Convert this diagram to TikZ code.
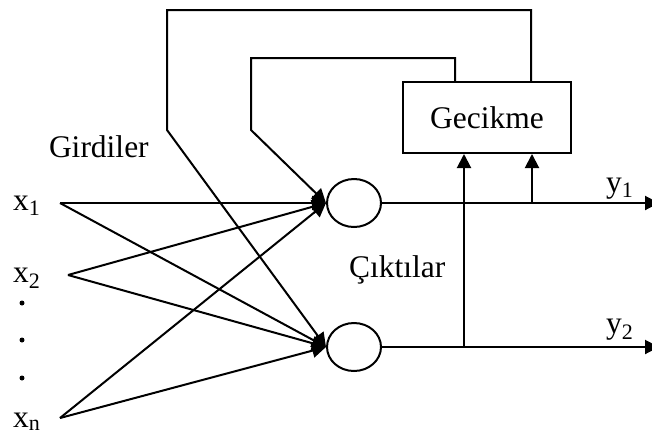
\documentclass[tikz,border=0pt]{standalone}
\usepackage{fontspec}
\setmainfont{Liberation Serif}
\usetikzlibrary{arrows.meta,shapes.geometric}
\begin{document}
\begin{tikzpicture}[x=1pt,y=-1pt,line width=2pt,line join=miter,
  lbl/.style={font=\fontsize{31.5}{36}\selectfont,inner sep=0,anchor=base west},
  neuron/.style={ellipse,draw,minimum width=54pt,minimum height=48pt,inner sep=0},
  delaybox/.style={draw,minimum width=168pt,minimum height=71pt,inner sep=0,font=\fontsize{31.5}{36}\selectfont},
  arr/.style={-{Triangle[length=14pt,width=14pt]}},
  dotmark/.style={circle,fill,inner sep=0,minimum size=5pt}]
\useasboundingbox (0,0) rectangle (652,432);
% neurons and delay box
\node[neuron] (n1) at (354,203) {};
\node[neuron] (n2) at (354,347) {};
\node[delaybox] (d) at (487,117.5) {Gecikme};
% labels
\node[lbl] (gir) at (48,157) {Girdiler};
\node[lbl] (cik) at (348,277) {Çıktılar};
\node[lbl] (x1) at (12,210) {x\textsubscript{1}};
\node[lbl] (x2) at (12,282) {x\textsubscript{2}};
\node[lbl] (xn) at (12,427) {x\textsubscript{n}};
\node[lbl] (y1) at (605,192) {y\textsubscript{1}};
\node[lbl] (y2) at (605,333) {y\textsubscript{2}};
\node[dotmark] (d1) at (22,303) {};
\node[dotmark] (d2) at (22,340) {};
\node[dotmark] (d3) at (22,378) {};
% input line start points
\coordinate (s1) at (60,203);
\coordinate (s2) at (68,275);
\coordinate (sn) at (60,418);
\draw[arr] (s1) -- (n1.west);
\draw[arr] (s1) -- (n2.west);
\draw[arr] (s2) -- (n1.west);
\draw[arr] (s2) -- (n2.west);
\draw[arr] (sn) -- (n1.west);
\draw[arr] (sn) -- (n2.west);
% outputs
\coordinate (o1) at (659,203);
\coordinate (o2) at (659,347);
\draw[arr] (n1.east) -- (o1);
\draw[arr] (n2.east) -- (o2);
% taps to delay
\coordinate (t1) at (532,203);
\coordinate (t2) at (464,347);
\draw[arr] (t1) -- (t1 |- d.south);
\draw[arr] (t2) -- (t2 |- d.south);
% feedback
\draw[arr] ([xshift=53pt]d.north west) |- (251,58) -- (251,130) -- (n1.west);
\draw[arr] ([xshift=129pt]d.north west) |- (167,10) -- (167,130) -- (n2.west);
\end{tikzpicture}
\end{document}
